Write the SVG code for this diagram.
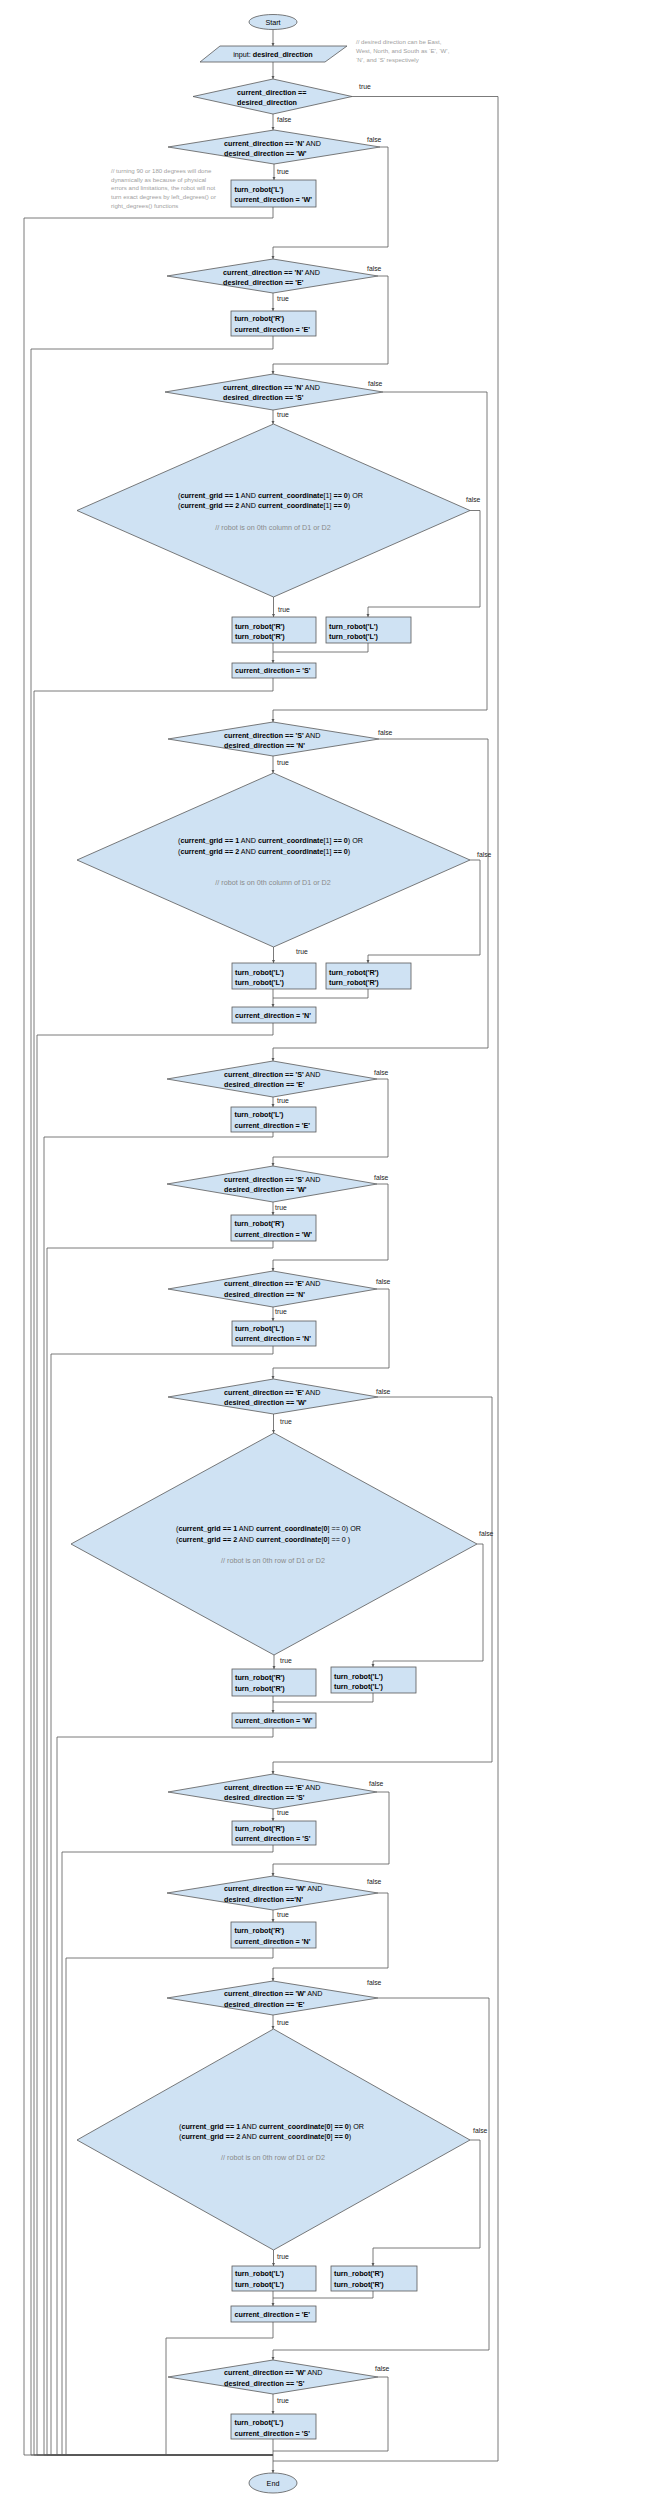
<svg xmlns="http://www.w3.org/2000/svg" width="649" height="2500" viewBox="0 0 649 2500">
<style>
.n{fill:#cfe2f3;stroke:#595959;stroke-width:0.8}
.t{font-family:"Liberation Sans",Arial,sans-serif;font-size:7.2px;fill:#000}
.b{font-weight:bold}
.mid{text-anchor:middle}
.c{font-family:"Liberation Sans",Arial,sans-serif;font-size:7.2px;fill:#8a8a8a;text-anchor:middle}
.cm{font-family:"Liberation Sans",Arial,sans-serif;font-size:6.1px;fill:#a0a0a0}
.l{font-family:"Liberation Sans",Arial,sans-serif;font-size:6.8px;fill:#222}
.e{fill:none;stroke:#595959;stroke-width:0.8}
.a{marker-end:url(#arr)}
</style>
<defs>
<marker id="arr" viewBox="0 0 10 10" refX="10" refY="5" markerWidth="4" markerHeight="4" orient="auto"><path d="M0,0 L10,5 L0,10 z" fill="#595959"/></marker>
</defs>
<rect width="649" height="2500" fill="#fff"/>

<g id="connectors">
<path class="e a" d="M273,29.5 V46"/>
<path class="e a" d="M273,62 V79"/>
<path class="e a" d="M273,114 V130"/>
<path class="e" d="M352,96.5 H498 V2461 H273"/>
<path class="e a" d="M274,164 V180"/>
<path class="e" d="M273,207 V218 H24 V2455 H273"/>
<path class="e a" d="M380,147 H388 V247 H273 V259"/>
<path class="e a" d="M273,293 V311"/>
<path class="e" d="M273,336 V349 H31 V2455 H273"/>
<path class="e a" d="M378,276 H388 V364 H273 V374"/>
<path class="e a" d="M383,392 H487 V710 H273 V722"/>
<path class="e a" d="M273,410 V424"/>
<path class="e a" d="M273.5,597 V617"/>
<path class="e a" d="M470,510.5 H480 V607 H368 V617"/>
<path class="e a" d="M273,643 V663"/>
<path class="e" d="M368,643 V652 H273"/>
<path class="e" d="M273,678 V691 H34 V2455 H273"/>
<path class="e a" d="M379,739 H488 V1048 H273 V1061"/>
<path class="e a" d="M273,756 V773"/>
<path class="e a" d="M273.5,947 V963"/>
<path class="e a" d="M470,860 H480 V955 H368 V963"/>
<path class="e a" d="M273,989 V1007"/>
<path class="e" d="M368,989 V998 H273"/>
<path class="e" d="M273,1023 V1035 H37 V2455 H273"/>
<path class="e a" d="M377,1079 H388 V1157 H273 V1166"/>
<path class="e a" d="M273,1097 V1107"/>
<path class="e" d="M273,1132 V1137 H44 V2455 H273"/>
<path class="e a" d="M377,1184 H388 V1260 H273 V1271"/>
<path class="e a" d="M273,1202 V1215"/>
<path class="e" d="M273,1241 V1248 H47 V2455 H273"/>
<path class="e a" d="M377,1289 H389 V1368 H273 V1379"/>
<path class="e a" d="M273,1307 V1321"/>
<path class="e" d="M273,1346 V1354 H51 V2455 H273"/>
<path class="e a" d="M378,1397 H492 V1762 H273 V1774"/>
<path class="e a" d="M273.5,1414 V1433"/>
<path class="e a" d="M274,1655 V1669"/>
<path class="e a" d="M477,1544 H483 V1661 H373 V1667"/>
<path class="e a" d="M273,1696 V1713"/>
<path class="e" d="M373,1693 V1702 H273"/>
<path class="e" d="M273,1728 V1737 H57 V2455 H273"/>
<path class="e a" d="M377,1792 H389 V1864 H273 V1876"/>
<path class="e a" d="M273,1809 V1821"/>
<path class="e" d="M273,1845 V1852 H62 V2455 H273"/>
<path class="e a" d="M378,1893 H388 V1968 H273 V1981"/>
<path class="e a" d="M273,1910 V1922"/>
<path class="e" d="M273,1948 V1958 H66 V2455 H273"/>
<path class="e a" d="M378,1998 H489 V2350 H273 V2360"/>
<path class="e a" d="M273,2015 V2029"/>
<path class="e a" d="M273.5,2250 V2266"/>
<path class="e a" d="M470,2140 H480 V2248 H373 V2266"/>
<path class="e a" d="M273,2291 V2306"/>
<path class="e" d="M373,2291 V2298 H273"/>
<path class="e" d="M273,2322 V2338 H166 V2455 H273"/>
<path class="e" d="M378,2377 H388 V2451 H273"/>
<path class="e a" d="M273,2394 V2414"/>
<path class="e a" d="M273,2439 V2473"/>
</g>

<g id="edge-labels">
<text class="l" x="359" y="89.4">true</text>
<text class="l" x="277" y="122.4">false</text>
<text class="l" x="367" y="142.4">false</text>
<text class="l" x="277" y="174.4">true</text>
<text class="l" x="367" y="271.4">false</text>
<text class="l" x="277" y="301.4">true</text>
<text class="l" x="368" y="386.4">false</text>
<text class="l" x="277" y="417.4">true</text>
<text class="l" x="466" y="502.4">false</text>
<text class="l" x="278" y="612.4">true</text>
<text class="l" x="378" y="735.4">false</text>
<text class="l" x="277" y="765.4">true</text>
<text class="l" x="477" y="857.4">false</text>
<text class="l" x="296" y="954.4">true</text>
<text class="l" x="374" y="1075.4">false</text>
<text class="l" x="277" y="1103.4">true</text>
<text class="l" x="374" y="1180.4">false</text>
<text class="l" x="275" y="1210.4">true</text>
<text class="l" x="376" y="1284.4">false</text>
<text class="l" x="275" y="1314.4">true</text>
<text class="l" x="376" y="1394.4">false</text>
<text class="l" x="280" y="1424.4">true</text>
<text class="l" x="479" y="1536.4">false</text>
<text class="l" x="280" y="1663.4">true</text>
<text class="l" x="369" y="1786.4">false</text>
<text class="l" x="277" y="1815.4">true</text>
<text class="l" x="367" y="1884.4">false</text>
<text class="l" x="277" y="1917.4">true</text>
<text class="l" x="367" y="1985.4">false</text>
<text class="l" x="277" y="2025.4">true</text>
<text class="l" x="473" y="2133.4">false</text>
<text class="l" x="277" y="2259.4">true</text>
<text class="l" x="375" y="2371.4">false</text>
<text class="l" x="277" y="2403.4">true</text>
</g>

<g id="start">
<ellipse class="n" cx="273" cy="22" rx="24" ry="7.5"/>
<text class="t mid" x="273" y="24.6">Start</text>
</g>

<g id="input">
<polygon class="n" points="220,46 347,46 325,62 200,62"/>
<text class="t mid" x="273" y="56.8">input: <tspan class="b">desired_direction</tspan></text>
</g>

<g id="comment-directions">
<text class="cm" x="356" y="44">// desired direction can be East,</text>
<text class="cm" x="356" y="52.8">West, North, and South as ‘E’, ‘W’,</text>
<text class="cm" x="356" y="61.6">‘N’, and ‘S’ respectively</text>
</g>

<g id="comment-turning">
<text class="cm" x="111" y="173">// turning 90 or 180 degrees will done</text>
<text class="cm" x="111" y="181.7">dynamically as because of physical</text>
<text class="cm" x="111" y="190.4">errors and limitations, the robot will not</text>
<text class="cm" x="111" y="199.1">turn exact degrees by left_degrees() or</text>
<text class="cm" x="111" y="207.8">right_degrees() functions</text>
</g>

<g id="d1">
<polygon class="n" points="273,79 352,96.5 273,114 193,96.5"/>
<text class="t b" x="237" y="94.6">current_direction ==</text>
<text class="t b" x="237" y="104.6">desired_direction</text>
</g>

<g id="d2">
<polygon class="n" points="274,130 380,147 274,164 168,147"/>
<text class="t" x="224" y="145.6"><tspan class="b">current_direction == 'N'</tspan> AND</text>
<text class="t b" x="224" y="155.6">desired_direction == 'W'</text>
</g>

<g id="b1">
<rect class="n" x="231" y="180" width="85" height="27"/>
<text class="t b" x="234.5" y="191.6">turn_robot('L')</text>
<text class="t b" x="234.5" y="201.6">current_direction = 'W'</text>
</g>

<g id="d3">
<polygon class="n" points="273,259 378,276 273,293 167,276"/>
<text class="t" x="223" y="274.6"><tspan class="b">current_direction == 'N'</tspan> AND</text>
<text class="t b" x="223" y="284.6">desired_direction == 'E'</text>
</g>

<g id="b2">
<rect class="n" x="231" y="311" width="85" height="25"/>
<text class="t b" x="234.5" y="320.6">turn_robot('R')</text>
<text class="t b" x="234.5" y="331.6">current_direction = 'E'</text>
</g>

<g id="d4">
<polygon class="n" points="273,374 383,392 273,410 165,392"/>
<text class="t" x="223" y="389.6"><tspan class="b">current_direction == 'N'</tspan> AND</text>
<text class="t b" x="223" y="399.6">desired_direction == 'S'</text>
</g>

<g id="d5">
<polygon class="n" points="273.5,424 470,510.5 273.5,597 77,510.5"/>
<text class="t" x="178" y="497.6">(<tspan class="b">current_grid == 1</tspan> AND <tspan class="b">current_coordinate</tspan>[1] <tspan class="b">== 0</tspan>) OR</text>
<text class="t" x="178" y="507.6">(<tspan class="b">current_grid == 2</tspan> AND <tspan class="b">current_coordinate</tspan>[1] <tspan class="b">== 0</tspan>)</text>
<text class="c" x="273" y="529.6">// robot is on 0th column of D1 or D2</text>
</g>

<g id="b3a">
<rect class="n" x="232" y="617" width="84" height="26"/>
<text class="t b" x="235" y="628.6">turn_robot('R')</text>
<text class="t b" x="235" y="638.6">turn_robot('R')</text>
</g>

<g id="b3b">
<rect class="n" x="326" y="617" width="85" height="26"/>
<text class="t b" x="329" y="628.6">turn_robot('L')</text>
<text class="t b" x="329" y="638.6">turn_robot('L')</text>
</g>

<g id="b4">
<rect class="n" x="232" y="663" width="84" height="15"/>
<text class="t b" x="235" y="673.2">current_direction = 'S'</text>
</g>

<g id="d6">
<polygon class="n" points="273,722 379,739 273,756 168,739"/>
<text class="t" x="224" y="737.6"><tspan class="b">current_direction == 'S'</tspan> AND</text>
<text class="t b" x="224" y="747.6">desired_direction == 'N'</text>
</g>

<g id="d7">
<polygon class="n" points="273.5,773 470,860 273.5,947 77,860"/>
<text class="t" x="178" y="842.6">(<tspan class="b">current_grid == 1</tspan> AND <tspan class="b">current_coordinate</tspan>[1] <tspan class="b">== 0</tspan>) OR</text>
<text class="t" x="178" y="853.6">(<tspan class="b">current_grid == 2</tspan> AND <tspan class="b">current_coordinate</tspan>[1] <tspan class="b">== 0</tspan>)</text>
<text class="c" x="273" y="884.6">// robot is on 0th column of D1 or D2</text>
</g>

<g id="b7a">
<rect class="n" x="232" y="963" width="84" height="26"/>
<text class="t b" x="235" y="974.6">turn_robot('L')</text>
<text class="t b" x="235" y="984.6">turn_robot('L')</text>
</g>

<g id="b7b">
<rect class="n" x="326" y="963" width="85" height="26"/>
<text class="t b" x="329" y="974.6">turn_robot('R')</text>
<text class="t b" x="329" y="984.6">turn_robot('R')</text>
</g>

<g id="b8">
<rect class="n" x="232" y="1007" width="84" height="16"/>
<text class="t b" x="235" y="1017.6">current_direction = 'N'</text>
</g>

<g id="d9">
<polygon class="n" points="273,1061 377,1079 273,1097 167,1079"/>
<text class="t" x="224" y="1076.6"><tspan class="b">current_direction == 'S'</tspan> AND</text>
<text class="t b" x="224" y="1086.6">desired_direction == 'E'</text>
</g>

<g id="b9">
<rect class="n" x="231" y="1107" width="85" height="25"/>
<text class="t b" x="234.5" y="1116.6">turn_robot('L')</text>
<text class="t b" x="234.5" y="1127.6">current_direction = 'E'</text>
</g>

<g id="d10">
<polygon class="n" points="273,1166 377,1184 273,1202 167,1184"/>
<text class="t" x="224" y="1181.6"><tspan class="b">current_direction == 'S'</tspan> AND</text>
<text class="t b" x="224" y="1191.6">desired_direction == 'W'</text>
</g>

<g id="b10">
<rect class="n" x="231" y="1215" width="85" height="26"/>
<text class="t b" x="234.5" y="1225.6">turn_robot('R')</text>
<text class="t b" x="234.5" y="1236.6">current_direction = 'W'</text>
</g>

<g id="d11">
<polygon class="n" points="273,1271 377,1289 273,1307 168,1289"/>
<text class="t" x="224" y="1285.6"><tspan class="b">current_direction == 'E'</tspan> AND</text>
<text class="t b" x="224" y="1296.6">desired_direction == 'N'</text>
</g>

<g id="b11">
<rect class="n" x="232" y="1321" width="84" height="25"/>
<text class="t b" x="235" y="1330.6">turn_robot('L')</text>
<text class="t b" x="235" y="1340.6">current_direction = 'N'</text>
</g>

<g id="d12">
<polygon class="n" points="273.5,1379 378,1397 273.5,1414 168,1397"/>
<text class="t" x="224" y="1394.6"><tspan class="b">current_direction == 'E'</tspan> AND</text>
<text class="t b" x="224" y="1404.6">desired_direction == 'W'</text>
</g>

<g id="d13">
<polygon class="n" points="274,1433 477,1544 274,1655 71,1544"/>
<text class="t" x="176" y="1530.6">(<tspan class="b">current_grid == 1</tspan> AND <tspan class="b">current_coordinate</tspan>[<tspan class="b">0</tspan>] == 0) OR</text>
<text class="t" x="176" y="1541.6">(<tspan class="b">current_grid == 2</tspan> AND <tspan class="b">current_coordinate</tspan>[<tspan class="b">0</tspan>] == 0 )</text>
<text class="c" x="273" y="1562.6">// robot is on 0th row of D1 or D2</text>
</g>

<g id="b13a">
<rect class="n" x="232" y="1669" width="84" height="27"/>
<text class="t b" x="235" y="1679.6">turn_robot('R')</text>
<text class="t b" x="235" y="1690.6">turn_robot('R')</text>
</g>

<g id="b13b">
<rect class="n" x="331" y="1667" width="85" height="26"/>
<text class="t b" x="334" y="1678.6">turn_robot('L')</text>
<text class="t b" x="334" y="1688.6">turn_robot('L')</text>
</g>

<g id="b14">
<rect class="n" x="232" y="1713" width="84" height="15"/>
<text class="t b" x="235" y="1723.2">current_direction = 'W'</text>
</g>

<g id="d15">
<polygon class="n" points="273,1774 377,1792 273,1809 168,1792"/>
<text class="t" x="224" y="1789.6"><tspan class="b">current_direction == 'E'</tspan> AND</text>
<text class="t b" x="224" y="1799.6">desired_direction == 'S'</text>
</g>

<g id="b15">
<rect class="n" x="232" y="1821" width="84" height="24"/>
<text class="t b" x="235" y="1830.6">turn_robot('R')</text>
<text class="t b" x="235" y="1840.6">current_direction = 'S'</text>
</g>

<g id="d16">
<polygon class="n" points="273,1876 378,1893 273,1910 167,1893"/>
<text class="t" x="224" y="1890.6"><tspan class="b">current_direction == 'W'</tspan> AND</text>
<text class="t b" x="224" y="1901.6">desired_direction =='N'</text>
</g>

<g id="b16">
<rect class="n" x="231" y="1922" width="85" height="26"/>
<text class="t b" x="234.5" y="1932.6">turn_robot('R')</text>
<text class="t b" x="234.5" y="1943.6">current_direction = 'N'</text>
</g>

<g id="d17">
<polygon class="n" points="273,1981 378,1998 273,2015 167,1998"/>
<text class="t" x="224" y="1995.6"><tspan class="b">current_direction == 'W'</tspan> AND</text>
<text class="t b" x="224" y="2006.6">desired_direction == 'E'</text>
</g>

<g id="d18">
<polygon class="n" points="273.5,2029 470,2140 273.5,2250 77,2140"/>
<text class="t" x="179" y="2128.6">(<tspan class="b">current_grid == 1</tspan> AND <tspan class="b">current_coordinate</tspan>[<tspan class="b">0</tspan>] <tspan class="b">== 0</tspan>) OR</text>
<text class="t" x="179" y="2138.6">(<tspan class="b">current_grid == 2</tspan> AND <tspan class="b">current_coordinate</tspan>[<tspan class="b">0</tspan>] <tspan class="b">== 0</tspan>)</text>
<text class="c" x="273" y="2159.6">// robot is on 0th row of D1 or D2</text>
</g>

<g id="b18a">
<rect class="n" x="232" y="2266" width="84" height="25"/>
<text class="t b" x="235" y="2275.6">turn_robot('L')</text>
<text class="t b" x="235" y="2286.6">turn_robot('L')</text>
</g>

<g id="b18b">
<rect class="n" x="331" y="2266" width="86" height="25"/>
<text class="t b" x="334" y="2275.6">turn_robot('R')</text>
<text class="t b" x="334" y="2286.6">turn_robot('R')</text>
</g>

<g id="b19">
<rect class="n" x="231" y="2306" width="85" height="16"/>
<text class="t b" x="234.5" y="2316.6">current_direction = 'E'</text>
</g>

<g id="d20">
<polygon class="n" points="273,2360 378,2377 273,2394 168,2377"/>
<text class="t" x="224" y="2374.6"><tspan class="b">current_direction == 'W'</tspan> AND</text>
<text class="t b" x="224" y="2385.6">desired_direction == 'S'</text>
</g>

<g id="b20">
<rect class="n" x="231" y="2414" width="85" height="25"/>
<text class="t b" x="234.5" y="2424.6">turn_robot('L')</text>
<text class="t b" x="234.5" y="2435.6">current_direction = 'S'</text>
</g>

<g id="end">
<ellipse class="n" cx="273" cy="2483" rx="24" ry="10"/>
<text class="t mid" x="273" y="2485.6">End</text>
</g>
</svg>
